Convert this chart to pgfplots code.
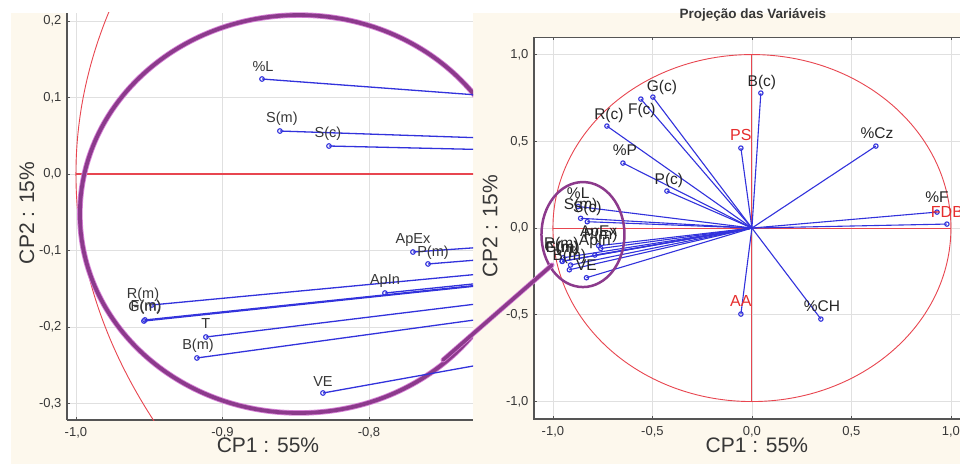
\documentclass[border=0pt]{standalone}
\usepackage{fontspec}
\setmainfont{Liberation Sans}
\usepackage{pgfplots}
\usepackage{pgfplotstable}
\pgfplotsset{compat=1.18}
\definecolor{cream}{RGB}{253,248,237}
\definecolor{vecblue}{RGB}{50,50,220}
\definecolor{circred}{RGB}{232,70,80}
\definecolor{purp}{RGB}{140,58,140}
\definecolor{purplight}{RGB}{215,130,215}
\definecolor{labred}{RGB}{230,45,45}
\definecolor{gridgray}{RGB}{224,224,224}
\definecolor{axgray}{RGB}{85,85,85}
\definecolor{txtgray}{RGB}{55,55,55}

% left panel (zoom of the cluster)
\pgfplotstableread{
x y lab dx dy
-0.8730 0.1242 \%L 1 12
-0.8608 0.0562 S(m) 2 12
-0.8273 0.0366 S(c) -1 12
-0.7700 -0.1020 ApEx 0 12
-0.7597 -0.1176 P(m) 5 11
-0.7891 -0.1556 ApIn 0 12
-0.9481 -0.1712 R(m) -9 10
-0.9536 -0.1922 G(m) 1 13
-0.9529 -0.1908 F(m) 1 13
-0.9113 -0.2131 T 0 14
-0.9174 -0.2405 B(m) 1 12
-0.8314 -0.2863 VE 0 11
}\leftdata

% right panel, active variables
\pgfplotstableread{
x y lab dx dy
0.045 0.778 B(c) 1 11
-0.4975 0.755 G(c) 9 10
-0.558 0.7435 F(c) 1 -11
-0.7286 0.5879 R(c) 2 11
-0.648 0.3746 \%P 2 13
-0.427 0.2133 P(c) 2 11
0.6231 0.4726 \%Cz 1 13
0.930 0.092 \%F 0 15
0.3467 -0.5245 \%CH 1 13
-0.8730 0.1242 \%L 0 13
-0.8608 0.0562 S(m) 0 13
-0.8273 0.0366 S(c) 0 13
-0.7700 -0.1020 ApEx 0 13
-0.7597 -0.1176 P(m) 0 13
-0.7891 -0.1556 ApIn 0 13
-0.9481 -0.1712 R(m) -2 13
-0.9536 -0.1922 G(m) 0 13
-0.9529 -0.1908 F(m) 0 13
-0.9113 -0.2131 T 0 13
-0.9174 -0.2405 B(m) 0 13
-0.8314 -0.2863 VE 0 13
}\rightdata

% right panel, supplementary variables
\pgfplotstableread{
x y lab dx dy
-0.0553 0.4611 PS 0 13
0.980 0.023 FDB 0 12
-0.0553 -0.4957 AA 0 13
}\suppdata

\pgfplotsset{
  pcabase/.style={
    scale only axis,
    anchor=south west,
    axis background/.style={fill=white},
    grid=major,
    grid style={gridgray, line width=0.8pt},
    axis line style={axgray, line width=1.2pt},
    tick style={axgray, line width=0.8pt},
    major tick length=3pt,
    every tick label/.append style={font=\fontsize{13}{15}\selectfont, text=txtgray},
    xticklabel style={yshift=-4pt},
    yticklabel style={xshift=-2pt},
    label style={font=\fontsize{21}{24}\selectfont, text=txtgray},
    clip=true,
  },
  labnodes/.style={
    draw=none, mark=none,
    nodes near coords,
    point meta=explicit symbolic,
    visualization depends on={\thisrow{dx} \as \dx},
    visualization depends on={\thisrow{dy} \as \dy},
    every node near coord/.append style={anchor=center, xshift={\dx pt}, yshift={\dy pt}, inner sep=0pt},
  },
}

\begin{document}
\begin{tikzpicture}
\useasboundingbox (0,0) rectangle (960pt,464pt);
\clip (0,0) rectangle (960pt,464pt);
\fill[white] (0,0) rectangle (960pt,464pt);
\fill[cream] (11pt,0) rectangle (960pt,451pt);

% ---------------- left panel ----------------
\begin{axis}[pcabase,
  at={(67pt,44pt)}, width=406pt, height=407pt,
  xmin=-1.0061, xmax=-0.729, ymin=-0.3216, ymax=0.2105,
  axis x line*=bottom, axis y line*=left,
  xtick={-1,-0.9,-0.8}, xticklabels={{-1,0},{-0,9},{-0,8}},
  ytick={-0.3,-0.2,-0.1,0,0.1,0.2},
  yticklabels={{-0,3},{-0,2},{-0,1},{0,0},{0,1},{0,2}},
  xlabel={CP1 : 55\%}, ylabel={CP2 : 15\%},
  xlabel style={at={(axis description cs:0.495,-0.0614)}, anchor=center},
  ylabel style={at={(axis description cs:-0.0985,0.509)}, anchor=center},
]
\draw[circred, line width=0.9pt] (axis cs:0,0) ellipse [x radius=1, y radius=1];
\draw[circred, line width=1.1pt] (axis cs:-1,0) -- (axis cs:1,0);
\draw[purplight, line width=5.5pt] (axis cs:-0.8478,-0.0523) ellipse [x radius=0.1495, y radius=0.2601];
\draw[purp, line width=3.8pt] (axis cs:-0.8478,-0.0523) ellipse [x radius=0.1495, y radius=0.2601];
\addplot[vecblue, line width=1.3pt, quiver={u=\thisrow{x}, v=\thisrow{y}}] table[x expr=0, y expr=0] {\leftdata};
\addplot[vecblue, only marks, mark=o, mark size=2.3pt, mark options={line width=1.1pt}] table[x=x, y=y] {\leftdata};
\addplot[labnodes, every node near coord/.append style={font=\fontsize{14.5}{16}\selectfont, text=txtgray}] table[x=x, y=y, meta=lab] {\leftdata};
\end{axis}

% ---------------- right panel ----------------
\begin{axis}[pcabase,
  at={(534pt,45.1pt)}, width=436.8pt, height=381.7pt,
  xmin=-1.095, xmax=1.1, ymin=-1.1, ymax=1.1,
  xtick={-1,-0.5,0,0.5,1}, xticklabels={{-1,0},{-0,5},{0,0},{0,5},{1,0}},
  ytick={-1,-0.5,0,0.5,1}, yticklabels={{-1,0},{-0,5},{0,0},{0,5},{1,0}},
  xlabel={CP1 : 55\%}, ylabel={CP2 : 15\%},
  xlabel style={at={(axis description cs:0.51,-0.068)}, anchor=center},
  ylabel style={at={(axis description cs:-0.1007,0.505)}, anchor=center},
  title={Projeção das Variáveis},
  title style={font=\bfseries\fontsize{13.5}{16}\selectfont, text=txtgray, at={(axis description cs:0.501,1.042)}, anchor=center},
]
\draw[circred, line width=0.9pt] (axis cs:0,0) ellipse [x radius=1, y radius=1];
\draw[circred, line width=0.9pt] (axis cs:-1,0) -- (axis cs:1,0);
\draw[circred, line width=0.9pt] (axis cs:0,-1) -- (axis cs:0,1);
\addplot[vecblue, line width=1.1pt, quiver={u=\thisrow{x}, v=\thisrow{y}}] table[x expr=0, y expr=0] {\rightdata};
\addplot[vecblue, line width=1.1pt, quiver={u=\thisrow{x}, v=\thisrow{y}}] table[x expr=0, y expr=0] {\suppdata};
\addplot[vecblue, only marks, mark=o, mark size=2.2pt, mark options={line width=1.1pt}] table[x=x, y=y] {\rightdata};
\addplot[vecblue, only marks, mark=o, mark size=2.2pt, mark options={line width=1.1pt}] table[x=x, y=y] {\suppdata};
\draw[purp, line width=2.5pt] (axis cs:-0.849,-0.0375) ellipse [x radius=0.2085, y radius=0.3026];
\addplot[labnodes, every node near coord/.append style={font=\fontsize{15.5}{17}\selectfont, text=black!85}] table[x=x, y=y, meta=lab] {\rightdata};
\addplot[labnodes, every node near coord/.append style={font=\fontsize{16}{18}\selectfont, text=labred}] table[x=x, y=y, meta=lab] {\suppdata};
\end{axis}

% connector between the two magnifier ellipses
\draw[purplight, line width=5pt, line cap=round] (443pt,104pt) -- (552pt,199pt);
\draw[purp, line width=3.5pt, line cap=round] (443pt,104pt) -- (552pt,199pt);
\end{tikzpicture}
\end{document}
